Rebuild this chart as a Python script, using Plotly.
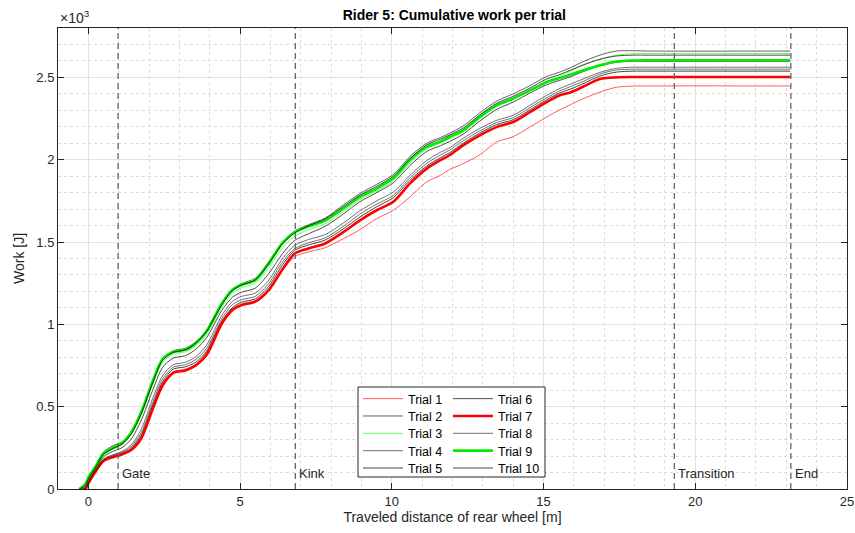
import plotly.graph_objects as go

# Distance along the track of the rear wheel [m]
distance = [-0.3, -0.1, 0.0, 0.25, 0.5, 0.8, 1.1, 1.4, 1.75, 2.1, 2.45, 2.8, 3.2,
            3.55, 3.9, 4.4, 4.75, 5.05, 5.5, 5.95, 6.4, 6.8, 7.25, 7.8, 8.4, 8.95,
            9.5, 10.05, 10.6, 11.15, 11.6, 11.9, 12.35, 12.9, 13.45, 14.0, 14.55,
            15.1, 15.5, 15.9, 16.3, 16.85, 17.4, 17.95, 18.5, 23.13]

# Cumulative work per trial [x10^3 J]
trial_1 = [0, 0, 0.035, 0.11, 0.172, 0.196, 0.213, 0.24, 0.32, 0.485, 0.64, 0.712, 0.728,
           0.76, 0.83, 1.015, 1.095, 1.125, 1.145, 1.215, 1.33, 1.41, 1.44, 1.465, 1.52, 1.575,
           1.642, 1.693, 1.774, 1.865, 1.905, 1.94, 1.976, 2.03, 2.107, 2.14, 2.198,
           2.259, 2.30, 2.335, 2.37, 2.41, 2.44, 2.447, 2.448, 2.448]
trial_2 = [0, 0.03, 0.07, 0.145, 0.225, 0.262, 0.285, 0.345, 0.47, 0.64, 0.79, 0.84, 0.855,
           0.895, 0.965, 1.13, 1.215, 1.248, 1.28, 1.382, 1.5, 1.566, 1.605, 1.645, 1.725, 1.795,
           1.85, 1.91, 2.02, 2.1, 2.135, 2.16, 2.205, 2.285, 2.355, 2.4, 2.45,
           2.505, 2.53, 2.56, 2.595, 2.635, 2.66, 2.662, 2.66, 2.66]
trial_3 = [0, 0.025, 0.06, 0.13, 0.205, 0.24, 0.268, 0.33, 0.455, 0.625, 0.77, 0.82, 0.833,
           0.872, 0.94, 1.105, 1.19, 1.222, 1.25, 1.345, 1.465, 1.535, 1.575, 1.61, 1.685, 1.758,
           1.81, 1.872, 1.98, 2.065, 2.1, 2.128, 2.17, 2.25, 2.322, 2.368, 2.42,
           2.475, 2.505, 2.54, 2.575, 2.61, 2.635, 2.644, 2.645, 2.645]
trial_4 = [0, 0.005, 0.045, 0.12, 0.182, 0.208, 0.228, 0.265, 0.365, 0.54, 0.69, 0.755, 0.77,
           0.805, 0.875, 1.055, 1.14, 1.17, 1.19, 1.27, 1.4, 1.48, 1.515, 1.545, 1.615, 1.69,
           1.75, 1.804, 1.905, 1.995, 2.045, 2.072, 2.13, 2.19, 2.239, 2.27, 2.33,
           2.39, 2.43, 2.46, 2.49, 2.53, 2.555, 2.562, 2.562, 2.562]
trial_5 = [0, 0, 0.038, 0.112, 0.174, 0.198, 0.216, 0.245, 0.33, 0.498, 0.652, 0.728, 0.742,
           0.772, 0.838, 1.02, 1.102, 1.135, 1.155, 1.232, 1.362, 1.45, 1.482, 1.512, 1.58, 1.652,
           1.714, 1.77, 1.875, 1.962, 2.012, 2.042, 2.1, 2.162, 2.213, 2.243, 2.303,
           2.364, 2.403, 2.43, 2.462, 2.508, 2.532, 2.538, 2.538, 2.538]
trial_6 = [0, 0.01, 0.05, 0.125, 0.195, 0.228, 0.25, 0.3, 0.42, 0.59, 0.74, 0.795, 0.81,
           0.85, 0.92, 1.085, 1.165, 1.195, 1.22, 1.31, 1.43, 1.51, 1.55, 1.595, 1.67, 1.745,
           1.8, 1.86, 1.965, 2.05, 2.085, 2.11, 2.155, 2.235, 2.305, 2.35, 2.405,
           2.455, 2.48, 2.505, 2.535, 2.57, 2.592, 2.598, 2.598, 2.598]
trial_7 = [0, 0, 0.035, 0.11, 0.17, 0.193, 0.21, 0.235, 0.31, 0.475, 0.63, 0.705, 0.72,
           0.752, 0.815, 1.005, 1.087, 1.117, 1.138, 1.21, 1.335, 1.43, 1.461, 1.491, 1.56, 1.632,
           1.693, 1.745, 1.856, 1.946, 1.997, 2.027, 2.087, 2.148, 2.198, 2.229, 2.289,
           2.35, 2.389, 2.41, 2.443, 2.49, 2.5, 2.502, 2.502, 2.502]
trial_8 = [0, 0, 0.04, 0.115, 0.178, 0.203, 0.222, 0.255, 0.345, 0.515, 0.67, 0.74, 0.755,
           0.788, 0.855, 1.035, 1.12, 1.15, 1.17, 1.25, 1.38, 1.46, 1.495, 1.525, 1.595, 1.67,
           1.73, 1.784, 1.89, 1.978, 2.028, 2.058, 2.115, 2.175, 2.225, 2.256, 2.316,
           2.376, 2.415, 2.445, 2.475, 2.52, 2.545, 2.55, 2.55, 2.55]
trial_9 = [0, 0.03, 0.07, 0.14, 0.217, 0.25, 0.277, 0.34, 0.47, 0.645, 0.79, 0.833, 0.845,
           0.887, 0.96, 1.127, 1.21, 1.24, 1.268, 1.372, 1.495, 1.561, 1.595, 1.63, 1.703, 1.774,
           1.825, 1.887, 1.998, 2.078, 2.11, 2.138, 2.178, 2.26, 2.33, 2.371, 2.421,
           2.471, 2.494, 2.518, 2.542, 2.573, 2.597, 2.603, 2.604, 2.604]
trial_10 = [0, 0.02, 0.06, 0.135, 0.21, 0.245, 0.272, 0.33, 0.46, 0.635, 0.782, 0.83, 0.846,
            0.888, 0.958, 1.12, 1.205, 1.238, 1.27, 1.37, 1.49, 1.555, 1.598, 1.64, 1.715, 1.785,
            1.838, 1.9, 2.008, 2.09, 2.125, 2.15, 2.192, 2.272, 2.342, 2.385, 2.435,
            2.49, 2.515, 2.545, 2.575, 2.61, 2.63, 2.635, 2.635, 2.635]

trials = [trial_1, trial_2, trial_3, trial_4, trial_5,
          trial_6, trial_7, trial_8, trial_9, trial_10]
trial_names = ["Trial %d" % i for i in range(1, 11)]

# Track sections
section_names = ["Gate", "Kink", "Transition", "End"]
section_pos = [0.98, 6.82, 19.31, 23.15]

x_ticks = [0, 5, 10, 15, 20, 25]
y_ticks = [0, 0.5, 1, 1.5, 2, 2.5]

styles = [
    dict(color="rgba(255,40,40,0.85)", width=0.9),
    dict(color="rgba(0,0,0,0.68)", width=0.9),
    dict(color="rgba(60,255,60,0.9)", width=0.9),
    dict(color="rgba(0,0,0,0.62)", width=0.9),
    dict(color="rgba(0,0,0,0.82)", width=0.9),
    dict(color="rgba(0,0,0,0.78)", width=0.9),
    dict(color="rgb(255,0,0)", width=2.6),
    dict(color="rgba(0,0,0,0.62)", width=0.9),
    dict(color="rgb(0,235,0)", width=2.6),
    dict(color="rgba(0,0,0,0.78)", width=0.9),
]

FONT = "Liberation Sans, Arial, Helvetica, sans-serif"
AX = "rgb(38,38,38)"

# Plot area geometry in pixels (used to place the two-column legend)
W, H = 855, 533
ML, MR, MT, MB = 58, 8, 28, 44
PW, PH = W - ML - MR, H - MT - MB


def px_x(p):
    return (p - ML) / PW


def px_y(p):
    return (H - MB - p) / PH


fig = go.Figure()
legend_layouts = {}
for i, (name, ys, st) in enumerate(zip(trial_names, trials, styles)):
    key = "legend" if i == 0 else "legend%d" % (i + 1)
    fig.add_trace(go.Scatter(
        x=distance, y=ys, name=name, mode="lines", showlegend=True,
        line=dict(shape="spline", smoothing=0.8, **st),
        legend=key,
    ))
    col, row = divmod(i, 5)
    legend_layouts[key] = dict(
        x=px_x(358 + col * 90), y=px_y(384 + row * 17.35), xanchor="left", yanchor="top",
        bgcolor="rgba(0,0,0,0)", borderwidth=0, itemwidth=40,
        font=dict(family=FONT, size=12.5, color="black"),
    )

shapes = []
annotations = []
for name, pos in zip(section_names, section_pos):
    shapes.append(dict(type="line", xref="x", yref="paper", x0=pos, x1=pos, y0=0, y1=1,
                       line=dict(color="rgb(100,100,100)", width=1.3, dash="6px,4px")))
    annotations.append(dict(x=pos, y=0.097, xref="x", yref="y", text=name, showarrow=False,
                            xanchor="left", yanchor="middle", xshift=2,
                            font=dict(family=FONT, size=13, color=AX)))

# Legend frame
shapes.append(dict(type="rect", xref="paper", yref="paper", x0=px_x(358), x1=px_x(545),
                   y0=px_y(477), y1=px_y(387), line=dict(color=AX, width=1),
                   fillcolor="white", layer="above"))

annotations.append(dict(x=0, y=1.0, xref="paper", yref="paper", text="×10<sup>3</sup>",
                        showarrow=False, xanchor="left", yanchor="bottom", yshift=0,
                        font=dict(family=FONT, size=14, color=AX)))

axis_common = dict(
    showline=True, linecolor=AX, linewidth=1, mirror="ticks",
    ticks="inside", ticklen=6, tickcolor=AX, tickwidth=1,
    showgrid=True, gridcolor="rgb(225,225,225)", gridwidth=1,
    zeroline=False, automargin=False, tickfont=dict(family=FONT, size=13, color=AX),
)

fig.update_layout(
    width=W, height=H,
    margin=dict(l=ML, r=MR, t=MT, b=MB),
    paper_bgcolor="white", plot_bgcolor="white",
    font=dict(family=FONT, color=AX),
    showlegend=True,
    title=dict(text="<b>Rider 5: Cumulative work per trial</b>", x=0.5314, xanchor="center",
               y=0.972, yanchor="middle", font=dict(family=FONT, size=14, color="black")),
    xaxis=dict(range=[-1, 25], tickvals=x_ticks,
               title=dict(text="Traveled distance of rear wheel [m]", standoff=0,
                          font=dict(family=FONT, size=14, color=AX)),
               minor=dict(dtick=1, tick0=0, showgrid=True, gridcolor="rgb(220,220,220)",
                          griddash="dot", gridwidth=1, ticks=""),
               **axis_common),
    yaxis=dict(range=[0, 2.8], tickvals=y_ticks, ticktext=["0", "0.5", "1", "1.5", "2", "2.5"],
               title=dict(text="Work [J]", standoff=8,
                          font=dict(family=FONT, size=14, color=AX)),
               minor=dict(dtick=0.1, tick0=0, showgrid=True, gridcolor="rgb(220,220,220)",
                          griddash="dot", gridwidth=1, ticks=""),
               **axis_common),
    shapes=shapes,
    annotations=annotations,
    **legend_layouts,
)

fig.write_html("out.html")
